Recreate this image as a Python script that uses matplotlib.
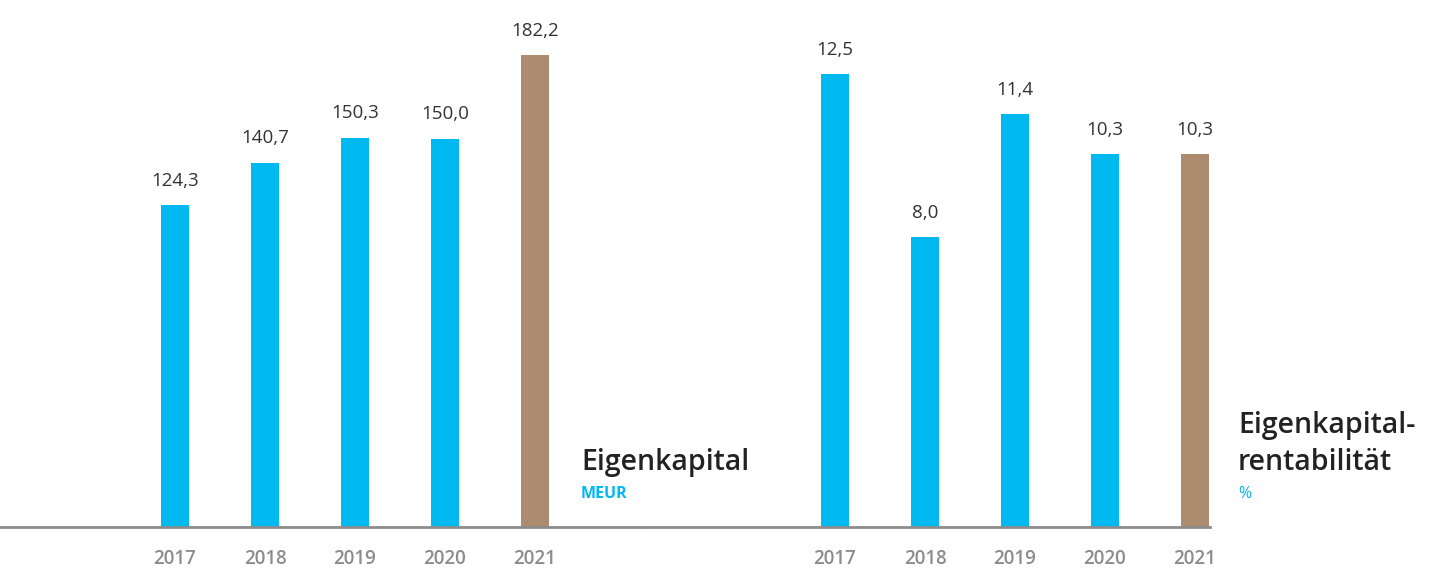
import matplotlib.pyplot as plt

# data
years = ["2017", "2018", "2019", "2020", "2021"]
equity = [124.3, 140.7, 150.3, 150.0, 182.2]
roe = [12.5, 8.0, 11.4, 10.3, 10.3]

blue = "#00B9F0"
brown = "#AD8B6E"
gray = "#8C8C8C"
colors = [blue, blue, blue, blue, brown]

plt.rcParams['font.family'] = ['Open Sans', 'DejaVu Sans']

W, H = 1429, 582
fig = plt.figure(figsize=(W / 100, H / 100), dpi=100)

base = 527  # baseline in px from top
step = 90   # px between bars


def panel(x0, x1, first_center, values, pxunit, fmt):
    ax = fig.add_axes([x0 / W, (H - base) / H, (x1 - x0) / W, base / H])
    pos = range(len(values))
    ax.bar(pos, values, width=28 / step, color=colors)
    ax.set_xlim((x0 - first_center) / step, (x1 - first_center) / step)
    ax.set_ylim(0, base / pxunit)
    for p, v in zip(pos, values):
        ax.annotate(fmt(v), (p, v), xytext=(0, 11), textcoords="offset points",
                    ha="center", va="bottom", fontsize=13.5, color="#333333")
    for s in ["top", "right", "left"]:
        ax.spines[s].set_visible(False)
    ax.spines["bottom"].set_color(gray)
    ax.spines["bottom"].set_linewidth(2)
    ax.set_yticks([])
    ax.set_xticks(list(pos))
    ax.set_xticklabels(years, fontsize=13.5, color=gray, fontweight="semibold")
    ax.tick_params(axis="x", length=0, pad=16)
    return ax


def de(v):
    return f"{v:.1f}".replace(".", ",")


panel(0, 640, 175, equity, 2.59, de)
panel(640, 1210, 835, roe, 36.2, de)

fig.text(581 / W, 1 - 470 / H, "Eigenkapital", fontsize=20.5, fontweight="semibold",
         color="#222222", va="baseline")
fig.text(581 / W, 1 - 498 / H, "MEUR", fontsize=11.5, fontweight="bold",
         color=blue, va="baseline")
fig.text(1238 / W, 1 - 470 / H, "Eigenkapital-\nrentabilität", fontsize=20.5,
         fontweight="semibold", color="#222222", va="baseline", linespacing=1.35)
fig.text(1238 / W, 1 - 498 / H, "%", fontsize=11.5, color=blue, va="baseline")

fig.savefig("out.png", dpi=100)
